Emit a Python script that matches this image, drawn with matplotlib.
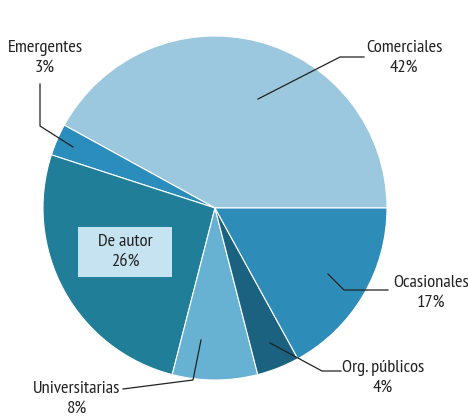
import matplotlib
matplotlib.use('Agg')
import matplotlib.pyplot as plt
from matplotlib.patches import Rectangle

# datos del grafico
categorias = ['Comerciales', 'Emergentes', 'De autor', 'Universitarias', 'Org. públicos', 'Ocasionales']
valores = [42, 3, 26, 8, 4, 17]
colores = ['#9bc8df', '#2a8dbb', '#217e98', '#67b2d2', '#1b6180', '#2d8db8']

plt.rcParams['font.family'] = ['PT Sans Narrow', 'DejaVu Sans']

W, H = 468, 416
CX, CY, R = 215, 208, 172


def px(x, y):
    # pixel (desde arriba a la izquierda) -> coordenadas de datos
    return ((x - CX) / R, (CY - y) / R)


fig = plt.figure(figsize=(W / 100, H / 100), dpi=100)
ax = fig.add_axes([0, 0, 1, 1])
ax.pie(valores, colors=colores, startangle=0, counterclock=True, radius=1,
       wedgeprops=dict(edgecolor='white', linewidth=0.8))
ax.set_xlim(-CX / R, (W - CX) / R)
ax.set_ylim(-(H - CY) / R, CY / R)
ax.set_aspect('equal')
ax.axis('off')

txt = dict(fontsize=13.3, color='#222222', ha='center', va='center', linespacing=1.3)
linea = dict(color='#222222', lw=0.9)

# etiquetas: (posicion texto, puntos de la linea guia)
etiquetas = {
    'Comerciales': ((404, 58), [(258, 99), (340, 57), (364, 57)]),
    'Emergentes': ((45, 58), [(40, 84), (40, 126), (73, 147)]),
    'Universitarias': ((77, 399), [(201, 340), (193, 380), (123, 389)]),
    'Org. públicos': ((383, 378), [(270, 343), (322, 371), (341, 371)]),
    'Ocasionales': ((431, 293), [(328, 274), (344, 290), (388, 290)]),
}

for cat, val in zip(categorias, valores):
    if cat == 'De autor':
        x0, y0 = px(78, 277)
        x1, y1 = px(172, 227)
        ax.add_patch(Rectangle((x0, y0), x1 - x0, y1 - y0, fc='#c6e3f1', ec='none', zorder=3))
        x, y = px(125, 252)
        ax.text(x, y, f'{cat}\n{val}%', zorder=4, **txt)
        continue
    pos, pts = etiquetas[cat]
    x, y = px(*pos)
    ax.text(x, y, f'{cat}\n{val}%', **txt)
    xs, ys = zip(*[px(a, b) for a, b in pts])
    ax.plot(xs, ys, **linea)

fig.savefig('out.png', dpi=100)
